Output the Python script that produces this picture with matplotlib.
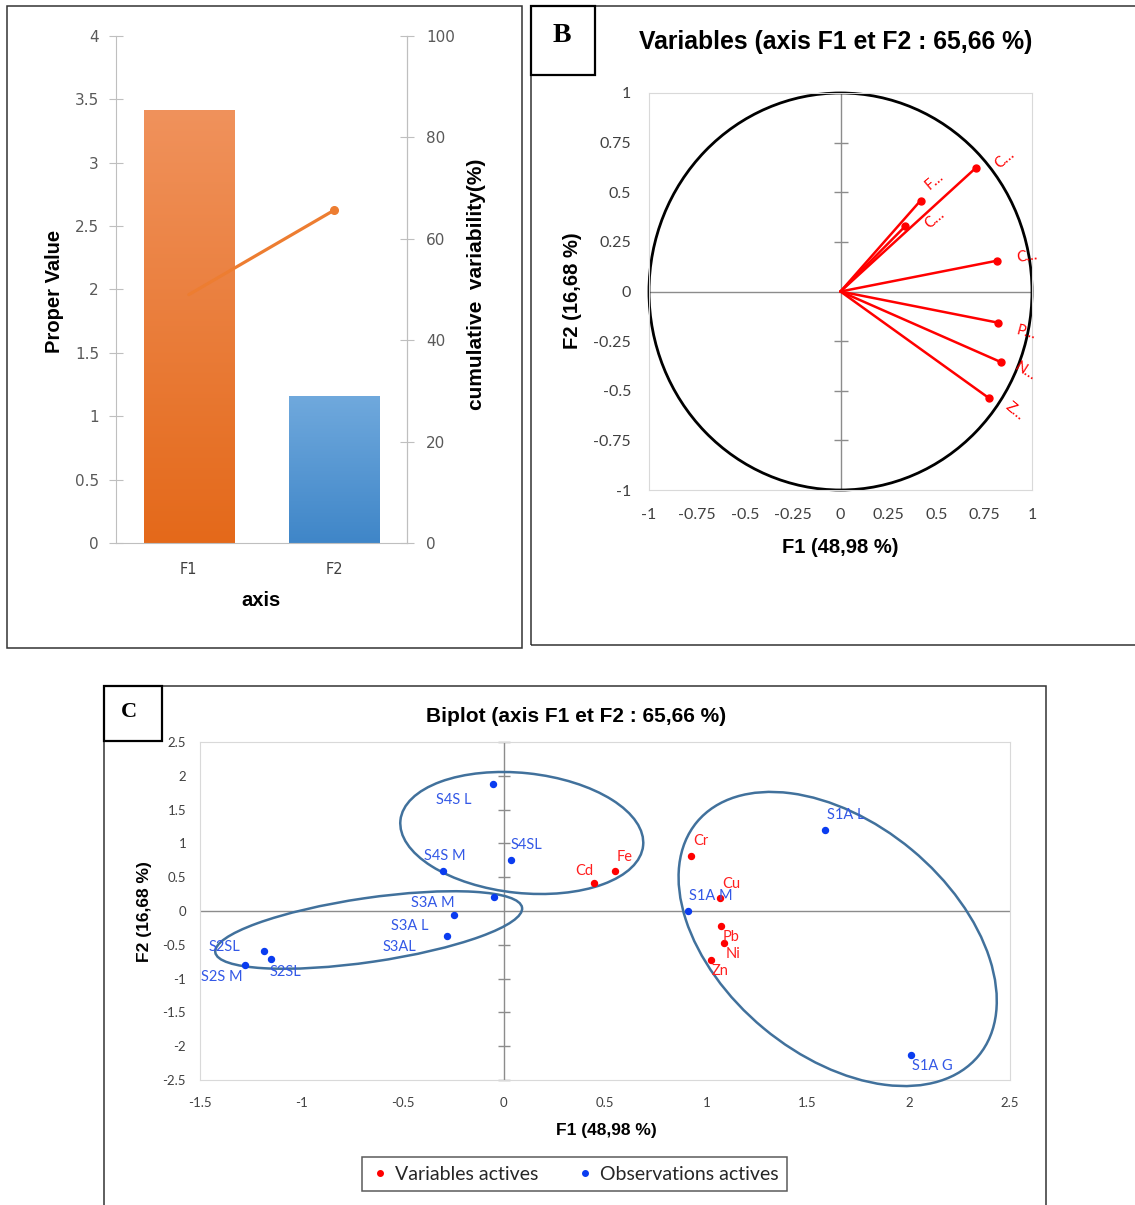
import numpy as np
import matplotlib
matplotlib.use("Agg")
import matplotlib.pyplot as plt
from matplotlib.patches import Rectangle, Ellipse, Circle
from matplotlib.lines import Line2D
from matplotlib.colors import LinearSegmentedColormap
from matplotlib.transforms import Affine2D, ScaledTranslation

# ---------------- data ----------------
factor_names = ["F1", "F2"]
eigenvalues = [3.42, 1.16]
cumulative_pct = [48.98, 65.66]

circle_vars = ["Cr", "Fe", "Cd", "Cu", "Pb", "Ni", "Zn"]
circle_labels = ["C…", "F…", "C…", "C…", "P…", "N…", "Z…"]
circle_f1 = [0.707, 0.418, 0.337, 0.816, 0.822, 0.836, 0.778]
circle_f2 = [0.623, 0.458, 0.328, 0.155, -0.157, -0.355, -0.539]

biplot_vars = ["Cr", "Fe", "Cd", "Cu", "Pb", "Ni", "Zn"]
biplot_var_f1 = [0.925, 0.55, 0.448, 1.067, 1.073, 1.09, 1.024]
biplot_var_f2 = [0.81, 0.585, 0.42, 0.19, -0.22, -0.47, -0.72]

obs_names = ["S4S L", "S4SL", "S4S M", "S3A M", "S3A L", "S3AL",
             "S2SL", "S2SL", "S2S M", "S1A L", "S1A M", "S1A G"]
obs_f1 = [-0.054, 0.035, -0.30, -0.05, -0.245, -0.28,
          -1.185, -1.147, -1.28, 1.588, 0.909, 2.013]
obs_f2 = [1.88, 0.75, 0.59, 0.21, -0.06, -0.375,
          -0.59, -0.71, -0.80, 1.20, 0.005, -2.125]

# ---------------- styling / placement ----------------
circle_lbl_off = [(29, 9), (14, 20), (30, 7.5), (30, 4.6), (28, -10), (25, -10), (25, -13)]
circle_lbl_rot = [40, 40, 40, 8, -15, -32, -40]
var_lbl_off = [(10, 15), (10, 14), (-10, 12), (11, 14), (10, -11), (9, -11), (9, -11)]
obs_lbl_off = [(-39, -16), (16, 15), (2, 15), (-61, -6), (-44, -11), (-48, -11),
               (-39, 4), (14, -13), (-23, -12), (20, 15), (23, 15), (21, -11)]
# ellipses: data centre, semi axes in pixels, angle in degrees (display)
ellipses = [((0.089, 1.154), 122, 60, -6),
            ((-0.667, -0.281), 155, 32, 8.3),
            ((1.649, -0.414), 183, 116, -39.7)]

W, H = 1135, 1205
plt.rcParams['font.family'] = ['Lato', 'DejaVu Sans']
fig = plt.figure(figsize=(W / 100, H / 100), dpi=100)
BOLD = ['Liberation Sans', 'DejaVu Sans']


def frac_rect(x0, y0, x1, y1):
    return [x0 / W, 1 - y1 / H, (x1 - x0) / W, (y1 - y0) / H]


def ftext(x, y, s, **kw):
    fig.text(x / W, 1 - y / H, s, **kw)


def fbox(x0, y0, x1, y1, lw=1.1, color='#333333'):
    fig.add_artist(Rectangle((x0 / W, 1 - y1 / H), (x1 - x0) / W, (y1 - y0) / H,
                             transform=fig.transFigure, fill=False,
                             edgecolor=color, lw=lw))


# panel frames
fbox(7, 6, 522, 648)
fbox(531, 6, 1140, 645)
fbox(531, 6, 595, 75, lw=1.6, color='black')
fbox(104, 686, 1046, 1215)
fbox(104, 686, 162, 741, lw=1.6, color='black')
ftext(562, 36, "B", ha='center', va='center', fontsize=20, weight='bold',
      family=['Liberation Serif'])
ftext(129, 712, "C", ha='center', va='center', fontsize=16, weight='bold',
      family=['Liberation Serif'])

# ---------------- Panel A ----------------
axA = fig.add_axes(frac_rect(116, 36, 407, 543))
xpos = np.arange(len(factor_names))
bar_cols = [("#f0925c", "#e4691a"), ("#70a9dd", "#3f86c8")]
bw = 0.62
for xi, h, (ct, cb) in zip(xpos, eigenvalues, bar_cols):
    bar = axA.bar(xi, h, bw, color='none', edgecolor='none', zorder=2)[0]
    cmap = LinearSegmentedColormap.from_list("g", [cb, ct])
    grad = np.linspace(0, 1, 256).reshape(-1, 1)
    im = axA.imshow(grad, extent=(xi - bw / 2, xi + bw / 2, 0, h), origin='lower',
                    cmap=cmap, aspect='auto', zorder=2)
    im.set_clip_path(bar)
axA.set_xlim(-0.5, 1.5)
axA.set_ylim(0, 4)
yt = np.arange(0, 4.01, 0.5)
axA.set_yticks(yt, ["0", "0.5", "1", "1.5", "2", "2.5", "3", "3.5", "4"],
               fontfamily='DejaVu Sans', fontsize=11, color='#595959')
axA.set_xticks(xpos, factor_names, fontfamily='DejaVu Sans', fontsize=10.5, color='#404040')
axA.tick_params(axis='x', length=0, pad=14)
axA.tick_params(axis='y', direction='inout', length=9.5, color='#bfbfbf', pad=7.5)
axA.spines['top'].set_visible(False)
for s in ['left', 'right', 'bottom']:
    axA.spines[s].set_color('#bfbfbf')

axA2 = axA.twinx()
axA2.set_ylim(0, 100)
axA2.set_yticks(np.arange(0, 101, 20), ["0", "20", "40", "60", "80", "100"],
                fontfamily='DejaVu Sans', fontsize=11, color='#595959')
axA2.tick_params(axis='y', direction='inout', length=9.5, color='#bfbfbf', pad=8.8)
for s in ['left', 'top', 'bottom']:
    axA2.spines[s].set_visible(False)
axA2.spines['right'].set_color('#bfbfbf')
axA2.plot(xpos, cumulative_pct, color='#ed7d31', lw=2.3, marker='o', ms=5.5,
          markevery=[1], solid_capstyle='round', zorder=3)

ftext(55, 291, "Proper Value", rotation=90, ha='center', va='center',
      fontsize=14.5, weight='bold', family=BOLD)
ftext(477, 284, "cumulative  variability(%)", rotation=90, ha='center', va='center',
      fontsize=15, weight='bold', family=BOLD)
ftext(261, 601, "axis", ha='center', va='center', fontsize=14.5, weight='bold', family=BOLD)

# ---------------- Panel B ----------------
axB = fig.add_axes(frac_rect(649, 93, 1032, 490))
axB.set_xlim(-1, 1)
axB.set_ylim(-1, 1)
for s in axB.spines.values():
    s.set_color('#d9d9d9')
axB.axhline(0, color='#8c8c8c', lw=1, zorder=1)
axB.axvline(0, color='#8c8c8c', lw=1, zorder=1)
tb = [-0.75, -0.5, -0.25, 0.25, 0.5, 0.75]
axB.plot(np.zeros(len(tb)), tb, ls='none', marker='_', ms=9.7, mew=1, color='#8c8c8c', zorder=1)
axB.add_patch(Circle((0, 0), 1, fill=False, lw=2, edgecolor='black', clip_on=False, zorder=2))
for xv, yv, lab, off, rot in zip(circle_f1, circle_f2, circle_labels, circle_lbl_off, circle_lbl_rot):
    axB.plot([0, xv], [0, yv], color='#ff0000', lw=1.8, zorder=3, solid_capstyle='round')
    axB.plot([xv], [yv], 'o', color='#ff0000', ms=5, zorder=4)
    axB.annotate(lab, (xv, yv), xytext=off, textcoords='offset pixels', ha='center',
                 va='center', rotation=rot, color='#ff0000', fontsize=10.5,
                 rotation_mode='anchor')
bt = [-1, -0.75, -0.5, -0.25, 0, 0.25, 0.5, 0.75, 1]
bl = ["-1", "-0.75", "-0.5", "-0.25", "0", "0.25", "0.5", "0.75", "1"]
axB.set_xticks(bt, bl, fontsize=11.5, color='#404040')
axB.set_yticks(bt, bl, fontsize=11.5, color='#404040')
axB.tick_params(length=0)
axB.tick_params(axis='x', pad=13)
axB.tick_params(axis='y', pad=13)
ftext(836, 42, "Variables (axis F1 et F2 : 65,66 %)", ha='center', va='center',
      fontsize=17.8, weight='bold', family=BOLD)
ftext(840, 548, "F1 (48,98 %)", ha='center', va='center', fontsize=14.5,
      weight='bold', family=BOLD)
ftext(573, 291, "F2 (16,68 %)", rotation=90, ha='center', va='center', fontsize=14.5,
      weight='bold', family=BOLD)

# ---------------- Panel C ----------------
axC = fig.add_axes(frac_rect(200, 742, 1010, 1080))
axC.set_xlim(-1.5, 2.5)
axC.set_ylim(-2.5, 2.5)
for s in axC.spines.values():
    s.set_color('#d9d9d9')
axC.axhline(0, color='#8c8c8c', lw=1, zorder=1)
axC.axvline(0, color='#8c8c8c', lw=1, zorder=1)
tc = [-2.5, -2, -1.5, -1, -0.5, 0.5, 1, 1.5, 2, 2.5]
axC.plot(np.zeros(len(tc)), tc, ls='none', marker='_', ms=8.6, mew=1, color='#8c8c8c',
         zorder=1, clip_on=False)
red, blue = '#ff0000', '#0a3cf0'
axC.plot(biplot_var_f1, biplot_var_f2, 'o', color=red, ms=4.3, zorder=4, ls='none')
axC.plot(obs_f1, obs_f2, 'o', color=blue, ms=4.3, zorder=4, ls='none')
for xv, yv, lab, off in zip(biplot_var_f1, biplot_var_f2, biplot_vars, var_lbl_off):
    axC.annotate(lab, (xv, yv), xytext=off, textcoords='offset pixels', ha='center',
                 va='center', color='#ff1f1f', fontsize=10.5, zorder=5)
for xv, yv, lab, off in zip(obs_f1, obs_f2, obs_names, obs_lbl_off):
    axC.annotate(lab, (xv, yv), xytext=off, textcoords='offset pixels', ha='center',
                 va='center', color='#3358e6', fontsize=10.5, zorder=5)
for (cx, cy), a, b, ang in ellipses:
    tr = Affine2D() + ScaledTranslation(cx, cy, axC.transData)
    axC.add_patch(Ellipse((0, 0), 2 * a, 2 * b, angle=ang, transform=tr, fill=False,
                          edgecolor='#41719c', lw=1.8, clip_on=False, zorder=3))
ct = [-1.5, -1, -0.5, 0, 0.5, 1, 1.5, 2, 2.5]
cl = ["-1.5", "-1", "-0.5", "0", "0.5", "1", "1.5", "2", "2.5"]
axC.set_xticks(ct, cl, fontsize=9.5, color='#404040')
yc = [-2.5, -2, -1.5, -1, -0.5, 0, 0.5, 1, 1.5, 2, 2.5]
ycl = ["-2.5", "-2", "-1.5", "-1", "-0.5", "0", "0.5", "1", "1.5", "2", "2.5"]
axC.set_yticks(yc, ycl, fontsize=9.5, color='#404040')
axC.tick_params(length=0)
axC.tick_params(axis='x', pad=12)
axC.tick_params(axis='y', pad=10)
ftext(576, 717, "Biplot (axis F1 et F2 : 65,66 %)", ha='center', va='center',
      fontsize=15, weight='bold', family=BOLD)
ftext(606, 1130, "F1 (48,98 %)", ha='center', va='center', fontsize=12.5,
      weight='bold', family=BOLD)
ftext(145, 912, "F2 (16,68 %)", rotation=90, ha='center', va='center', fontsize=12.5,
      weight='bold', family=BOLD)

handles = [Line2D([], [], ls='none', marker='o', ms=4, color=red),
           Line2D([], [], ls='none', marker='o', ms=4, color=blue)]
leg = fig.legend(handles, ["Variables actives", "Observations actives"], loc='center',
                 bbox_to_anchor=(574.5 / W, 1 - 1174 / H), ncol=2, frameon=True,
                 fancybox=False, edgecolor='#333333', fontsize=14, handletextpad=0.25,
                 columnspacing=1.9, borderpad=0.45, handlelength=1.0,
                 borderaxespad=0)
leg.get_frame().set_linewidth(1.1)
for t in leg.get_texts():
    t.set_color('#262626')

fig.savefig("out.png", dpi=100)
